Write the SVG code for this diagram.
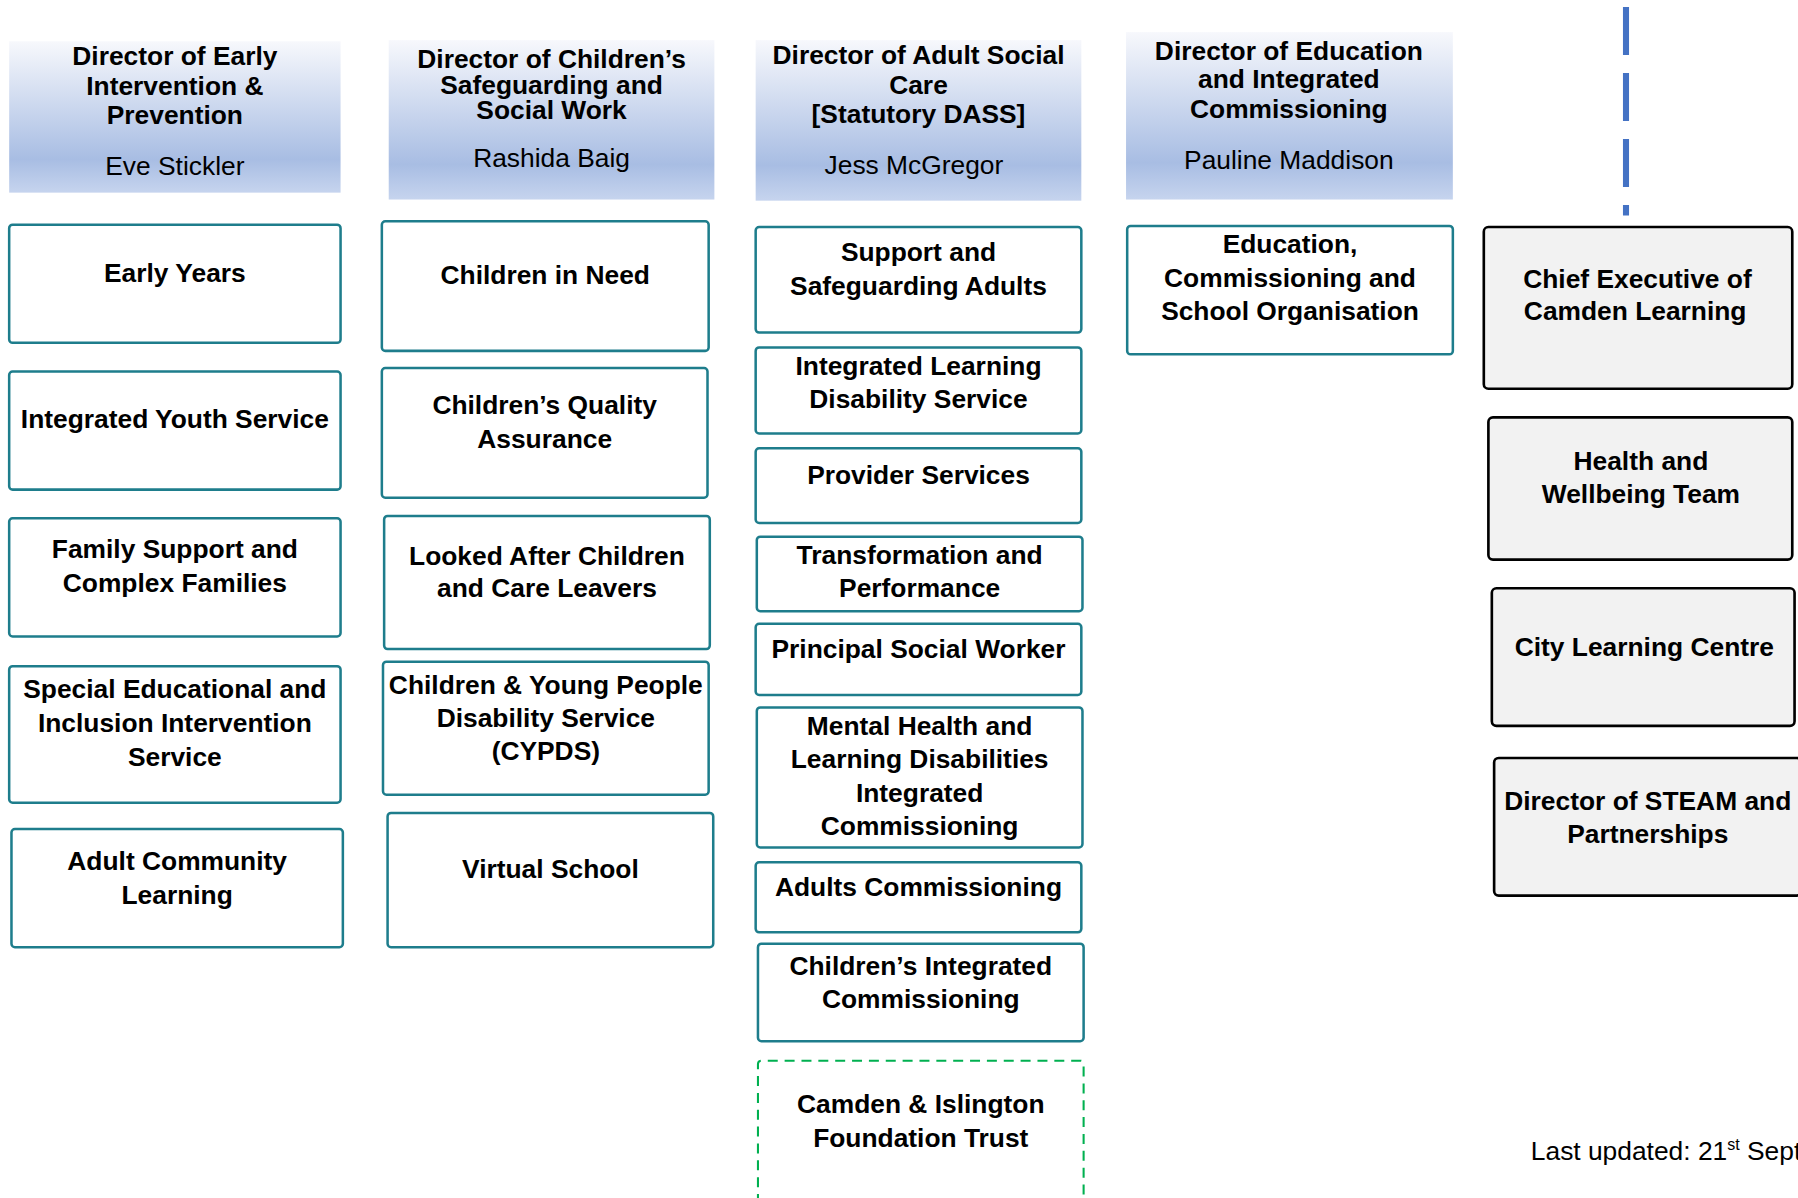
<svg xmlns="http://www.w3.org/2000/svg" width="1798" height="1198" viewBox="0 0 1798 1198">
<defs>
<linearGradient id="hg" x1="0" y1="0" x2="0" y2="1">
<stop offset="0" stop-color="#f7f8fc"/>
<stop offset="0.78" stop-color="#a8bde3"/>
<stop offset="1" stop-color="#c6d4ee"/>
</linearGradient>
<style>
.hdr{fill:url(#hg);}
.box{fill:#ffffff;stroke:#1e7d8c;stroke-width:2.2;}
.gbox{fill:#f2f2f2;stroke:#000000;stroke-width:2.3;}
.green{fill:none;stroke:#00b050;stroke-width:1.8;stroke-dasharray:8.7 6;}
.t{font-family:"Liberation Sans",Arial,sans-serif;font-weight:bold;font-size:23px;text-anchor:middle;fill:#000;}
.n{font-family:"Liberation Sans",Arial,sans-serif;font-weight:normal;font-size:23px;text-anchor:middle;fill:#000;}
.note{font-family:"Liberation Sans",Arial,sans-serif;font-size:23px;fill:#000;}
.conn{fill:none;stroke:#4472c4;stroke-width:5.3;stroke-dasharray:41.9 15.7;}
</style>
</defs>
<rect width="1798" height="1198" fill="#ffffff"/>
<g transform="scale(1.146684)">
<g id="connectors">
<line class="conn" x1="1418" y1="6" x2="1418" y2="188"/>
</g>

<g id="hdr-early">
<rect class="hdr" x="8" y="36" width="289" height="132"/>
<text class="t" x="152.5" y="57">Director of Early</text>
<text class="t" x="152.5" y="83">Intervention &amp;</text>
<text class="t" x="152.5" y="108">Prevention</text>
<text class="n" x="152.5" y="153">Eve Stickler</text>
</g>
<g id="hdr-children">
<rect class="hdr" x="339" y="35" width="284" height="139"/>
<text class="t" x="481" y="59">Director of Children’s</text>
<text class="t" x="481" y="82">Safeguarding and</text>
<text class="t" x="481" y="104">Social Work</text>
<text class="n" x="481" y="146">Rashida Baig</text>
</g>
<g id="hdr-adult">
<rect class="hdr" x="659" y="35" width="284" height="140"/>
<text class="t" x="801" y="56">Director of Adult Social</text>
<text class="t" x="801" y="82">Care</text>
<text class="t" x="801" y="107">[Statutory DASS]</text>
<text class="n" x="797" y="152">Jess McGregor</text>
</g>
<g id="hdr-education">
<rect class="hdr" x="982" y="28" width="285" height="146"/>
<text class="t" x="1124" y="52">Director of Education</text>
<text class="t" x="1124" y="77">and Integrated</text>
<text class="t" x="1124" y="103">Commissioning</text>
<text class="n" x="1124" y="147">Pauline Maddison</text>
</g>

<g id="early-years">
<rect class="box" x="8" y="196" width="289" height="103" rx="3"/>
<text class="t" x="152.5" y="246">Early Years</text>
</g>
<g id="youth-service">
<rect class="box" x="8" y="324" width="289" height="103" rx="3"/>
<text class="t" x="152.5" y="373">Integrated Youth Service</text>
</g>
<g id="family-support">
<rect class="box" x="8" y="452" width="289" height="103" rx="3"/>
<text class="t" x="152.5" y="487">Family Support and</text>
<text class="t" x="152.5" y="516">Complex Families</text>
</g>
<g id="special-educational">
<rect class="box" x="8" y="581" width="289" height="119" rx="3"/>
<text class="t" x="152.5" y="609">Special Educational and</text>
<text class="t" x="152.5" y="638">Inclusion Intervention</text>
<text class="t" x="152.5" y="668">Service</text>
</g>
<g id="adult-community">
<rect class="box" x="10" y="723" width="289" height="103" rx="3"/>
<text class="t" x="154.5" y="759">Adult Community</text>
<text class="t" x="154.5" y="788">Learning</text>
</g>

<g id="children-in-need">
<rect class="box" x="333" y="193" width="285" height="113" rx="3"/>
<text class="t" x="475.5" y="248">Children in Need</text>
</g>
<g id="quality-assurance">
<rect class="box" x="333" y="321" width="284" height="113" rx="3"/>
<text class="t" x="475" y="361">Children’s Quality</text>
<text class="t" x="475" y="391">Assurance</text>
</g>
<g id="looked-after">
<rect class="box" x="335" y="450" width="284" height="116" rx="3"/>
<text class="t" x="477" y="493">Looked After Children</text>
<text class="t" x="477" y="521">and Care Leavers</text>
</g>
<g id="cypds">
<rect class="box" x="334" y="577" width="284" height="116" rx="3"/>
<text class="t" x="476" y="605">Children &amp; Young People</text>
<text class="t" x="476" y="634">Disability Service</text>
<text class="t" x="476" y="663">(CYPDS)</text>
</g>
<g id="virtual-school">
<rect class="box" x="338" y="709" width="284" height="117" rx="3"/>
<text class="t" x="480" y="766">Virtual School</text>
</g>

<g id="support-safeguarding">
<rect class="box" x="659" y="198" width="284" height="92" rx="3"/>
<text class="t" x="801" y="228">Support and</text>
<text class="t" x="801" y="257">Safeguarding Adults</text>
</g>
<g id="learning-disability">
<rect class="box" x="659" y="303" width="284" height="75" rx="3"/>
<text class="t" x="801" y="327">Integrated Learning</text>
<text class="t" x="801" y="356">Disability Service</text>
</g>
<g id="provider-services">
<rect class="box" x="659" y="391" width="284" height="65" rx="3"/>
<text class="t" x="801" y="422">Provider Services</text>
</g>
<g id="transformation">
<rect class="box" x="660" y="468" width="284" height="65" rx="3"/>
<text class="t" x="802" y="492">Transformation and</text>
<text class="t" x="802" y="521">Performance</text>
</g>
<g id="principal-social-worker">
<rect class="box" x="659" y="544" width="284" height="62" rx="3"/>
<text class="t" x="801" y="574">Principal Social Worker</text>
</g>
<g id="mental-health">
<rect class="box" x="660" y="617" width="284" height="122" rx="3"/>
<text class="t" x="802" y="641">Mental Health and</text>
<text class="t" x="802" y="670">Learning Disabilities</text>
<text class="t" x="802" y="699">Integrated</text>
<text class="t" x="802" y="728">Commissioning</text>
</g>
<g id="adults-commissioning">
<rect class="box" x="659" y="752" width="284" height="61" rx="3"/>
<text class="t" x="801" y="781">Adults Commissioning</text>
</g>
<g id="childrens-commissioning">
<rect class="box" x="661" y="823" width="284" height="85" rx="3"/>
<text class="t" x="803" y="850">Children’s Integrated</text>
<text class="t" x="803" y="879">Commissioning</text>
</g>
<g id="foundation-trust">
<path class="green" d="M661,1050 L661,928 Q661,925 664,925 L942,925 Q945,925 945,928 L945,1050"/>
<text class="t" x="803" y="971">Camden &amp; Islington</text>
<text class="t" x="803" y="1000">Foundation Trust</text>
</g>

<g id="education-commissioning">
<rect class="box" x="983" y="197" width="284" height="112" rx="3"/>
<text class="t" x="1125" y="221">Education,</text>
<text class="t" x="1125" y="250">Commissioning and</text>
<text class="t" x="1125" y="279">School Organisation</text>
</g>

<g id="chief-executive">
<rect class="gbox" x="1294" y="198" width="269" height="141" rx="4"/>
<text class="t" x="1428" y="251">Chief Executive of</text>
<text class="t" x="1426" y="279">Camden Learning</text>
</g>
<g id="health-wellbeing">
<rect class="gbox" x="1298" y="364" width="265" height="124" rx="4"/>
<text class="t" x="1431" y="410">Health and</text>
<text class="t" x="1431" y="439">Wellbeing Team</text>
</g>
<g id="city-learning">
<rect class="gbox" x="1301" y="513" width="264" height="120" rx="4"/>
<text class="t" x="1434" y="572">City Learning Centre</text>
</g>
<g id="director-steam">
<rect class="gbox" x="1303" y="661" width="268" height="120" rx="4"/>
<text class="t" x="1437" y="706">Director of STEAM and</text>
<text class="t" x="1437" y="735">Partnerships</text>
</g>

<text class="note" x="1335" y="1012">Last updated: 21<tspan font-size="14" dy="-9">st</tspan><tspan dy="9"> Sept</tspan></text>
</g>
</svg>
